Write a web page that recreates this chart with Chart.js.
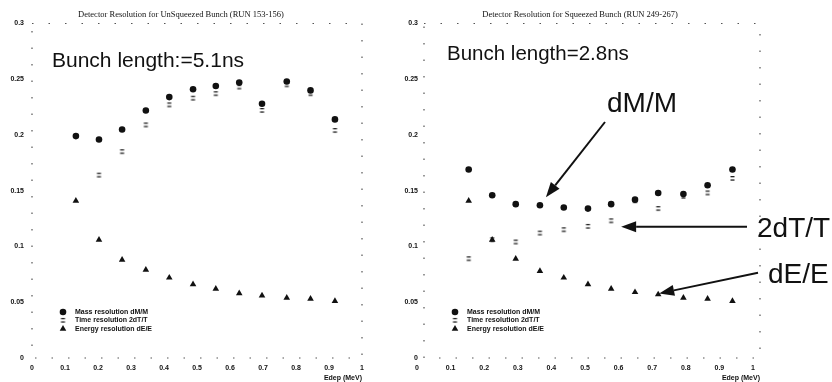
<!DOCTYPE html>
<html>
<head>
<meta charset="utf-8">
<script src="https://cdn.jsdelivr.net/npm/chart.js@4.4.1/dist/chart.umd.min.js"></script>
<style>
html, body { margin: 0; padding: 0; background: #fff; }
#wrap { position: relative; width: 832px; height: 382px; overflow: hidden; background: #fff; }
canvas { position: absolute; top: 0; }
#unsq { left: 0; }
#sq { left: 400px; }
</style>
</head>
<body>
<div id="wrap">
  <canvas id="unsq" width="400" height="382"></canvas>
  <canvas id="sq" width="432" height="382"></canvas>
</div>
<script>
// Energy deposit bins (MeV), shared by both runs
const edep = [0.133, 0.203, 0.273, 0.345, 0.416, 0.488, 0.557, 0.628, 0.697, 0.772, 0.844, 0.918];

// Unsqueezed bunch, RUN 153-156
const unsqMass   = [0.199, 0.196, 0.205, 0.222, 0.234, 0.241, 0.244, 0.247, 0.228, 0.248, 0.240, 0.214];
const unsqTime   = [null, 0.164, 0.185, 0.209, 0.227, 0.233, 0.237, 0.243, 0.222, 0.245, 0.237, 0.204];
const unsqEnergy = [0.141, 0.106, 0.088, 0.079, 0.072, 0.066, 0.062, 0.058, 0.056, 0.054, 0.053, 0.051];

// Squeezed bunch, RUN 249-267
const sqMass   = [0.169, 0.146, 0.138, 0.137, 0.135, 0.134, 0.138, 0.142, 0.148, 0.147, 0.155, 0.169];
const sqTime   = [0.089, 0.106, 0.104, 0.112, 0.115, 0.118, 0.123, 0.141, 0.134, 0.145, 0.148, 0.161];
const sqEnergy = [0.141, 0.106, 0.089, 0.078, 0.072, 0.066, 0.062, 0.059, 0.057, 0.054, 0.053, 0.051];

const seriesNames = ['Mass resolution dM/M', 'Time resolution 2dT/T', 'Energy resolution dE/E'];
const yTickLabels = ['0', '0.05', '0.1', '0.15', '0.2', '0.25', '0.3'];
const xTickLabels = ['0', '0.1', '0.2', '0.3', '0.4', '0.5', '0.6', '0.7', '0.8', '0.9', '1'];

const INK = '#111';

// small "=" glyph used as the marker of the time-resolution series
function timeMarker() {
  const c = document.createElement('canvas');
  c.width = 7; c.height = 7;
  const g = c.getContext('2d');
  g.fillStyle = '#222';
  g.fillRect(1.5, 1, 4, 1.3);
  g.fillRect(1.5, 4.4, 4, 1.3);
  return c;
}
const timeGlyph = timeMarker();

function pts(values) {
  return edep.map((x, i) => ({ x: x, y: values[i] })).filter(p => p.y !== null);
}

function datasets(mass, time, energy) {
  return [
    { label: seriesNames[0], data: pts(mass), pointStyle: 'circle', pointRadius: 3.3,
      backgroundColor: INK, borderWidth: 0, order: 0 },
    { label: seriesNames[1], data: pts(time), pointStyle: timeGlyph, pointRadius: 3.5,
      backgroundColor: INK, borderWidth: 0, order: 2 },
    { label: seriesNames[2], data: pts(energy), pointStyle: 'triangle', pointRadius: 3.8,
      backgroundColor: INK, borderWidth: 0, order: 1 }
  ];
}

function drawMarker(ctx, style, r, x, y) {
  if (Chart.helpers && Chart.helpers.drawPoint) {
    Chart.helpers.drawPoint(ctx, { pointStyle: style, radius: r, rotation: 0, borderWidth: 0 }, x, y);
    return;
  }
  if (typeof style === 'object') { ctx.drawImage(style, x - style.width / 2, y - style.height / 2); return; }
  ctx.beginPath();
  if (style === 'triangle') {
    ctx.moveTo(x, y - r); ctx.lineTo(x + r * 0.87, y + r * 0.5); ctx.lineTo(x - r * 0.87, y + r * 0.5); ctx.closePath();
  } else {
    ctx.arc(x, y, r, 0, Math.PI * 2);
  }
  ctx.fill();
}

// sparse dotted frame around the plotting area
const dottedFrame = {
  id: 'dottedFrame',
  beforeDatasetsDraw(chart) {
    const { ctx, chartArea: a } = chart;
    ctx.save();
    ctx.strokeStyle = '#555';
    ctx.lineWidth = 1.2;
    ctx.setLineDash([1.5, 15]);
    ctx.strokeRect(a.left, a.top, a.right - a.left, a.bottom - a.top);
    ctx.restore();
  }
};

// legend stacked inside the lower-left corner of the plot
const insetLegend = {
  id: 'insetLegend',
  afterDatasetsDraw(chart, args, opts) {
    const { ctx, chartArea: a } = chart;
    ctx.save();
    ctx.fillStyle = INK;
    ctx.font = 'bold 7px "Liberation Sans", Arial, sans-serif';
    ctx.textBaseline = 'middle';
    chart.data.datasets.forEach((ds, i) => {
      const x = a.left + opts.dx;
      const y = opts.y + i * opts.gap;
      drawMarker(ctx, ds.pointStyle, ds.pointRadius, x, y);
      ctx.fillText(ds.label, x + opts.textDx, y);
    });
    ctx.restore();
  }
};

// free text and arrows
function arrow(ctx, x1, y1, x2, y2, head, half) {
  const ang = Math.atan2(y2 - y1, x2 - x1);
  const bx = x2 - head * Math.cos(ang), by = y2 - head * Math.sin(ang);
  ctx.beginPath();
  ctx.moveTo(x1, y1);
  ctx.lineTo(bx, by);
  ctx.stroke();
  ctx.beginPath();
  ctx.moveTo(x2, y2);
  ctx.lineTo(bx + half * Math.sin(ang), by - half * Math.cos(ang));
  ctx.lineTo(bx - half * Math.sin(ang), by + half * Math.cos(ang));
  ctx.closePath();
  ctx.fill();
}

const notes = {
  id: 'notes',
  afterDraw(chart, args, opts) {
    const { ctx, scales: { x, y } } = chart;
    ctx.save();
    ctx.fillStyle = INK;
    ctx.strokeStyle = INK;
    ctx.textBaseline = 'alphabetic';
    (opts.texts || []).forEach(t => {
      ctx.font = t.size + 'px "Liberation Sans", Arial, sans-serif';
      ctx.fillText(t.text, t.x, t.y);
    });
    ctx.lineWidth = 2;
    (opts.arrows || []).forEach(a => {
      const tx = x.getPixelForValue(edep[a.index]) + a.dx;
      const ty = y.getPixelForValue(a.values[a.index]) + a.dy;
      arrow(ctx, a.fromX, a.fromY, tx, ty, 15, 5.5);
    });
    ctx.restore();
  }
};

function makeChart(id, title, data, o) {
  return new Chart(document.getElementById(id), {
    type: 'scatter',
    data: { datasets: data },
    plugins: [dottedFrame, insetLegend, notes],
    options: {
      responsive: false,
      animation: false,
      events: [],
      layout: { padding: { left: 0, right: o.padRight, top: 0, bottom: 0 } },
      plugins: {
        legend: { display: false },
        tooltip: { enabled: false },
        title: {
          display: true,
          text: title,
          color: INK,
          font: { family: '"Liberation Serif", "Times New Roman", serif', size: 8.5, weight: 'normal' },
          padding: { top: 10, bottom: 3.3 }
        },
        insetLegend: { dx: 31, y: 312, gap: 8.4, textDx: 12 },
        notes: o.notes
      },
      scales: {
        x: {
          type: 'linear', min: 0, max: 1,
          grid: { display: false, drawTicks: false },
          border: { display: false },
          afterBuildTicks: s => { s.ticks = xTickLabels.map(v => ({ value: parseFloat(v) })); },
          afterFit: s => { s.height = 24; },
          ticks: {
            padding: 6, labelOffset: o.xLabelOffset, color: INK, maxRotation: 0, autoSkip: false,
            font: { family: '"Liberation Sans", Arial, sans-serif', size: 7, weight: 'bold' },
            callback: (v, i) => xTickLabels[i]
          },
          title: {
            display: true, text: 'Edep (MeV)', align: 'end', color: INK,
            padding: { top: 0, bottom: 0 },
            font: { family: '"Liberation Sans", Arial, sans-serif', size: 7, weight: 'bold' }
          }
        },
        y: {
          type: 'linear', min: 0, max: 0.3,
          grid: { display: false, drawTicks: false },
          border: { display: false },
          afterBuildTicks: s => { s.ticks = yTickLabels.map(v => ({ value: parseFloat(v) })); },
          afterFit: s => { s.width = o.axisWidth; },
          ticks: {
            padding: o.yPad, color: INK, autoSkip: false,
            font: { family: '"Liberation Sans", Arial, sans-serif', size: 7, weight: 'bold' },
            callback: (v, i) => yTickLabels[i]
          }
        }
      }
    }
  });
}

makeChart('unsq', 'Detector Resolution for UnSqueezed Bunch (RUN 153-156)',
  datasets(unsqMass, unsqTime, unsqEnergy),
  {
    padRight: 38, axisWidth: 32, yPad: 8, xLabelOffset: 0,
    notes: { texts: [{ text: 'Bunch length:=5.1ns', x: 52, y: 67, size: 21 }], arrows: [] }
  });

makeChart('sq', 'Detector Resolution for Squeezed Bunch (RUN 249-267)',
  datasets(sqMass, sqTime, sqEnergy),
  {
    padRight: 72, axisWidth: 24, yPad: 6, xLabelOffset: -7,
    notes: {
      texts: [
        { text: 'Bunch length=2.8ns', x: 47, y: 60, size: 20.5 },
        { text: 'dM/M', x: 207, y: 112, size: 28 },
        { text: '2dT/T', x: 357, y: 237, size: 28 },
        { text: 'dE/E', x: 368, y: 283, size: 28 }
      ],
      arrows: [
        { index: 3, values: sqMass, dx: 6, dy: -8, fromX: 205, fromY: 122 },
        { index: 6, values: sqTime, dx: 10, dy: 6, fromX: 347, fromY: 226.7 },
        { index: 8, values: sqEnergy, dx: 1, dy: -1, fromX: 358, fromY: 272.7 }
      ]
    }
  });
</script>
</body>
</html>
